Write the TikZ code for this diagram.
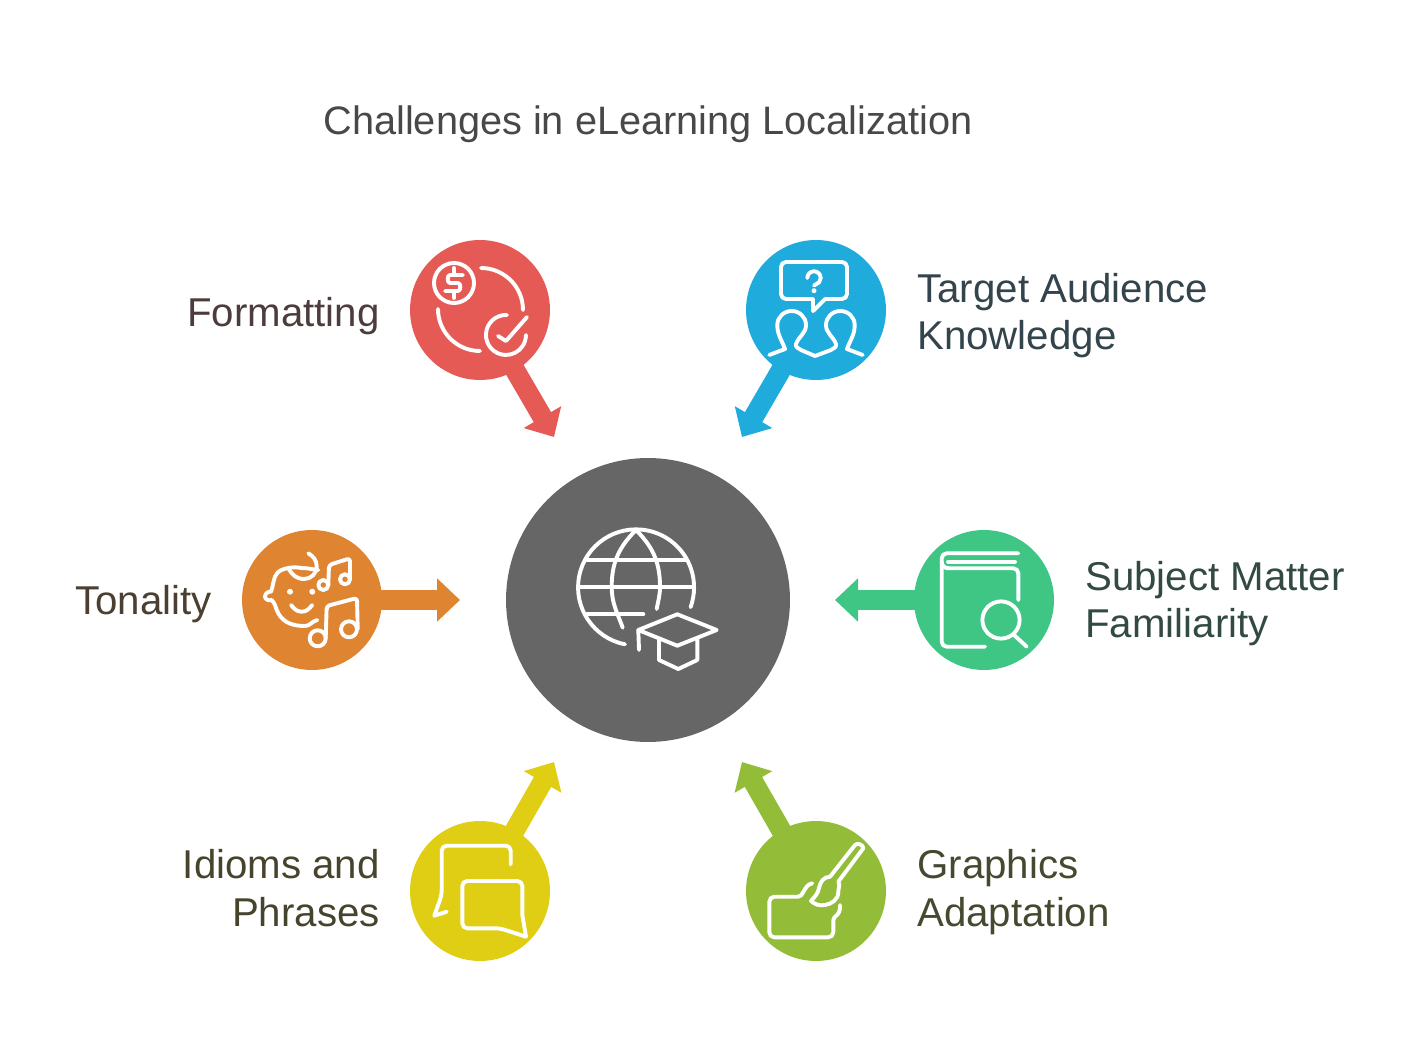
\documentclass[tikz,border=0pt]{standalone}
\usepackage{fontspec}
\setmainfont{Liberation Sans}
\usetikzlibrary{arrows.meta}
\definecolor{hubgray}{HTML}{666666}
\definecolor{formatred}{HTML}{E65A55}
\definecolor{audienceblue}{HTML}{1FACDD}
\definecolor{tonalorange}{HTML}{DF8430}
\definecolor{subjectgreen}{HTML}{3FC685}
\definecolor{idiomyellow}{HTML}{E0CE15}
\definecolor{graphicolive}{HTML}{93BD39}
\definecolor{titleink}{HTML}{484848}
\definecolor{formatink}{HTML}{4E3B3B}
\definecolor{audienceink}{HTML}{33444C}
\definecolor{tonalink}{HTML}{4A3F31}
\definecolor{subjectink}{HTML}{334A40}
\definecolor{idiomink}{HTML}{46442C}
\definecolor{graphicink}{HTML}{434A30}
\def\thickness{0.078cm}
\def\cornerradius{0.1cm}
\tikzstyle{hub}=[circle, inner sep=0pt, minimum size=5.68cm, fill=hubgray]
\tikzstyle{spoke}=[circle, inner sep=0pt, minimum size=2.8cm]
\tikzstyle{pointer}=[line width=0.4cm, -{Triangle[length=0.46cm, width=0.84cm]}]
\tikzstyle{icon}=[white, line width=\thickness, line cap=round, line join=round]
\tikzstyle{caption}=[inner sep=0pt, font=\fontsize{22.9}{27.2}\selectfont]
\tikzstyle{captionleft}=[caption, anchor=west, align=left]
\tikzstyle{captionright}=[caption, anchor=east, align=right]
\begin{document}
\begin{tikzpicture}[x=0.02cm, y=0.02cm]
\useasboundingbox (0,0) rectangle (1416,1059);
\node [inner sep=0pt, font=\fontsize{22.6}{27.2}\selectfont, text=titleink] (title) at (648,935) {Challenges in eLearning Localization};
% circles
\node [hub] (hub) at (648,459) {};
\node [spoke, fill=formatred] (formatting) at (480,749) {};
\node [spoke, fill=audienceblue] (audience) at (816,749) {};
\node [spoke, fill=tonalorange] (tonality) at (312,459) {};
\node [spoke, fill=subjectgreen] (subject) at (984,459) {};
\node [spoke, fill=idiomyellow] (idioms) at (480,168) {};
\node [spoke, fill=graphicolive] (graphics) at (816,168) {};
% pointers
\coordinate (formattingtip) at (554,622);
\coordinate (audiencetip) at (742,622);
\coordinate (tonalitytip) at (460,459);
\coordinate (subjecttip) at (835,459);
\coordinate (idiomstip) at (554,297);
\coordinate (graphicstip) at (742,297);
\draw [pointer, formatred] (formatting.center) -- (formattingtip);
\draw [pointer, audienceblue] (audience.center) -- (audiencetip);
\draw [pointer, tonalorange] (tonality.center) -- (tonalitytip);
\draw [pointer, subjectgreen] (subject.center) -- (subjecttip);
\draw [pointer, idiomyellow] (idioms.center) -- (idiomstip);
\draw [pointer, graphicolive] (graphics.center) -- (graphicstip);
% captions
\node [captionright, text=formatink] (formattinglabel) at (380,743) {Formatting};
\node [captionleft, text=audienceink] (audiencelabel) at (917,743.5) {Target Audience\\Knowledge};
\node [captionright, text=tonalink] (tonalitylabel) at (212,455) {Tonality};
\node [captionleft, text=subjectink] (subjectlabel) at (1085,455.5) {Subject Matter\\Familiarity};
\node [captionright, text=idiomink] (idiomslabel) at (380,171) {Idioms and\\Phrases};
\node [captionleft, text=graphicink] (graphicslabel) at (917,167) {Graphics\\Adaptation};
% globe and cap
\begin{scope}[shift={(hub.center)}, icon]
\draw (-23,-44.3) arc (259:-20:58);
\draw (-12,70) to [out=-135, in=90] (-36.3,13.3) to [out=-90, in=110] (-25.3,-27.7);
\draw (-12,70) to [out=-45, in=90] (12,13.3) to [out=-90, in=80] (8.7,-9);
\draw (-61,40) -- (38,40);
\draw (-70,13.3) -- (46,13.3);
\draw (-61,-14.3) -- (-4.7,-14.3);
\draw (-9.7,-30) -- (29.3,-14.3) -- (68.7,-30) -- (29.3,-45.7) -- cycle;
\draw (-9.7,-30) -- (-9,-50);
\draw (11,-38.3) -- (11,-60) -- (30.3,-69) -- (49.3,-60) -- (49.3,-38.3);
\end{scope}
% coin and tick
\begin{scope}[shift={(formatting.center)}, icon]
\draw (-26,27) circle [radius=20];
\draw (1,42) arc (90:0:42);
\draw (-42,1) arc (180:270:42);
\draw (27,-5) arc (87:360:20);
\draw (18,-26) -- (26,-31) -- (47,-7);
\draw (-17,35) -- (-30,35) to [out=180, in=180] (-30,27) -- (-22,27) to [out=0, in=0] (-22,19) -- (-35,19);
\draw (-26,42) -- (-26,37);
\draw (-26,17) -- (-26,12);
\end{scope}
% question and people
\begin{scope}[shift={(audience.center)}, icon]
\draw [rounded corners=\cornerradius] (9,11) -- (31,11) -- (31,48) -- (-35,48) -- (-35,11) -- (-3,11);
\draw (-3,11) -- (-3,-1) -- (9,11);
\draw (-8.7,32) arc (180:-40:6.7) -- (-2,24.5);
\fill [white] (-2,19.3) circle [radius=2.5];
\draw (-46.7,-45) -- (-31,-39) to [out=110, in=-90] (-38.7,-15) to [out=90, in=180] (-24.3,-1) to [out=0, in=90] (-10,-15) to [out=-90, in=70] (-20,-34) to [out=-110, in=150] (-15,-40) -- (-1,-46);
\draw (46.7,-45) -- (31,-39) to [out=70, in=-90] (38.7,-15) to [out=90, in=0] (24.3,-1) to [out=180, in=90] (10,-15) to [out=-90, in=110] (20,-34) to [out=-70, in=30] (15,-40) -- (-1,-46);
\end{scope}
% baby and notes
\begin{scope}[shift={(tonality.center)}, icon]
\draw (5.3,-20) to [out=190, in=0] (-7,-26) to [out=180, in=-60] (-33.7,-13.3) to [out=120, in=-45] (-40.3,0) to [out=200, in=-90] (-47,3.3) to [out=90, in=170] (-41,8.3) to [out=70, in=-110] (-37,23.3) to [out=70, in=190] (-22,32.3) to [out=10, in=180] (-5.3,31.7) -- (6.3,30);
\draw (-3.7,46.7) to [out=-30, in=90] (4.7,33.3) to [out=-90, in=0] (-8,21) to [out=180, in=-60] (-23.7,31.7);
\fill [white] (-22,8.3) circle [radius=3];
\fill [white] (0.3,8.3) circle [radius=3];
\draw (-21,-5) to [out=-50, in=180] (-10.3,-11.7) to [out=0, in=230] (0.3,-5);
\draw (11.3,15) circle [radius=5];
\draw (33,20.7) circle [radius=5];
\draw [rounded corners=0.06cm] (16.3,15) -- (17,35) -- (38,41.7) -- (38,20.7);
\draw (5.7,-38.3) circle [radius=8];
\draw (37,-29.3) circle [radius=8];
\draw [rounded corners=0.06cm] (13.7,-38) -- (14.7,-6) -- (45,2) -- (45.7,-29.3);
\end{scope}
% book and lens
\begin{scope}[shift={(subject.center)}, icon]
\draw [rounded corners=\cornerradius] (34.3,46.7) -- (-42.3,46.7) -- (-42.3,-46.7) -- (1,-46.7);
\draw (31,38.3) -- (-36,38.3);
\draw (-42.3,38) to [out=-90, in=180] (-35.7,31.7);
\draw [rounded corners=\cornerradius] (-35.7,31.7) -- (34.3,31.7) -- (34.3,0);
\draw (17,-20) circle [radius=18.6];
\draw (30,-35) -- (42.7,-46.7);
\end{scope}
% speech bubbles
\begin{scope}[shift={(idioms.center)}, icon]
\draw [rounded corners=\cornerradius] (30.7,26.7) -- (30.7,45.3) -- (-38.3,45.3) -- (-38.3,-4) [sharp corners] -- (-45.7,-24.7) -- (-33.3,-20.7);
\draw [rounded corners=\cornerradius] (42.3,-24) -- (42.3,10) -- (-17.7,10) -- (-17.7,-37.3) -- (20,-37.3) [sharp corners] -- (46,-45.7) -- cycle;
\end{scope}
% brush and canvas
\begin{scope}[shift={(graphics.center)}, icon]
\draw (14,14.3) -- (39,46) to [out=50, in=90] (47.3,42.7) -- (22.3,9.3);
\draw (14,14.3) to [out=180, in=80] (3,3) to [out=-100, in=50] (-5,-10) to [out=-40, in=190] (9,-14) to [out=10, in=-90] (22.3,-1) to [out=90, in=-60] (22.3,9.3);
\draw [rounded corners=\cornerradius] (-17.7,-5.7) -- (-46.7,-5.7) -- (-46.7,-46.3) -- (17.3,-46.3) -- (17.3,-29);
\draw (-3.7,7.7) to [out=190, in=60] (-12.7,-1) to [out=-120, in=0] (-17.7,-5.7);
\draw (17.3,-29) to [out=90, in=-135] (21,-24) to [out=45, in=-90] (24,-14);
\end{scope}
\end{tikzpicture}
\end{document}
